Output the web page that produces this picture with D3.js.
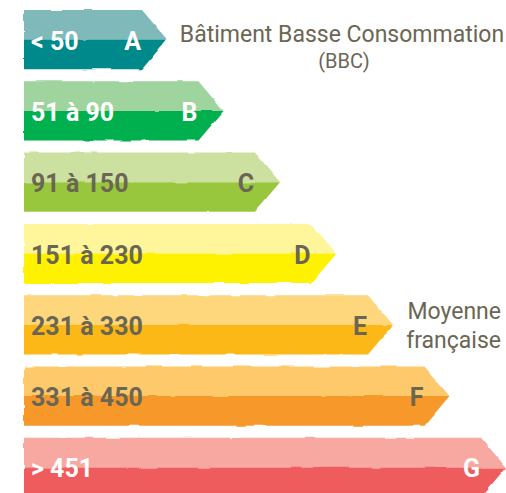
<!DOCTYPE html>
<html>
<head>
<meta charset="utf-8">
<script src="https://cdn.jsdelivr.net/npm/d3@7"></script>
<style>
  html, body { margin: 0; padding: 0; background: #ffffff; }
  svg { display: block; }
</style>
</head>
<body>
<div id="chart"></div>
<script>
// ---- data ----
const classes = ["A", "B", "C", "D", "E", "F", "G"];
const ranges = ["< 50", "51 à 90", "91 à 150", "151 à 230", "231 à 330", "331 à 450", "> 451"];
const ranks = [1, 2, 3, 4, 5, 6, 7];
const lightColors = ["#80b9ba", "#9fd49e", "#cce1a0", "#fff69b", "#fed67c", "#fdc96b", "#f7a9a1"];
const darkColors = ["#00898b", "#00b050", "#98c73d", "#fff200", "#fcb815", "#f7992b", "#ef5b5d"];
const labelColors = ["#ffffff", "#ffffff", "#6b6653", "#6b6653", "#6b6653", "#6b6653", "#ffffff"];
const annotationTop = ["Bâtiment Basse Consommation", "(BBC)"];
const annotationMid = ["Moyenne", "française"];

const W = 506, H = 493;
const svg = d3.select("#chart").append("svg").attr("width", W).attr("height", H);

// hand-drawn look for the bar edges
const defs = svg.append("defs");
const filt = defs.append("filter").attr("id", "rough")
  .attr("x", "-2%").attr("y", "-10%").attr("width", "104%").attr("height", "120%");
filt.append("feTurbulence").attr("type", "fractalNoise")
  .attr("baseFrequency", "0.04 0.08").attr("numOctaves", 2).attr("seed", 3).attr("result", "noise");
filt.append("feDisplacementMap").attr("in", "SourceGraphic").attr("in2", "noise")
  .attr("scale", 3).attr("xChannelSelector", "R").attr("yChannelSelector", "G");

const y = d3.scaleBand().domain(classes).range([10, 497]).paddingInner(0.17).paddingOuter(0);
const xTip = d3.scaleLinear().domain([1, 7]).range([167, 506]);
const x0 = 24;
const tipW = 25;

const rows = classes.map((c, i) => ({ c, i, range: ranges[i], rank: ranks[i] }));

const g = svg.selectAll("g.bar").data(rows).enter().append("g").attr("class", "bar");

function arrowPath(d, part) {
  const top = y(d.c), bh = y.bandwidth(), mid = top + bh / 2, bot = top + bh;
  const tx = xTip(d.rank), bx = tx - tipW;
  if (part === "light") {
    return `M${x0},${top}L${bx},${top}L${tx},${mid}L${x0},${mid}Z`;
  }
  return `M${x0},${mid}L${tx},${mid}L${bx},${bot}L${x0},${bot}Z`;
}

const shapes = g.append("g").attr("filter", "url(#rough)");
shapes.append("path").attr("d", d => arrowPath(d, "light")).attr("fill", d => lightColors[d.i]);
shapes.append("path").attr("d", d => arrowPath(d, "dark")).attr("fill", d => darkColors[d.i]);

const labelFont = "Roboto, 'Liberation Sans', sans-serif";

g.append("text")
  .attr("x", 31)
  .attr("y", d => y(d.c) + y.bandwidth() / 2 + 10)
  .attr("font-family", labelFont)
  .attr("font-weight", "bold")
  .attr("font-size", 25)
  .attr("fill", d => labelColors[d.i])
  .text(d => d.range);

g.append("text")
  .attr("x", d => xTip(d.rank) - 26)
  .attr("y", d => y(d.c) + y.bandwidth() / 2 + 10)
  .attr("text-anchor", "end")
  .attr("font-family", labelFont)
  .attr("font-weight", "bold")
  .attr("font-size", 25)
  .attr("fill", d => labelColors[d.i])
  .text(d => d.c);

const annFont = "Roboto, 'Liberation Sans', sans-serif";
svg.append("text").attr("x", 342).attr("y", 42)
  .attr("text-anchor", "middle").attr("font-family", annFont)
  .attr("font-size", 23).attr("fill", "#6b6653").text(annotationTop[0]);
svg.append("text").attr("x", 344).attr("y", 68)
  .attr("text-anchor", "middle").attr("font-family", annFont)
  .attr("font-size", 20).attr("fill", "#6b6653").text(annotationTop[1]);
svg.append("text").attr("x", 501).attr("y", 319)
  .attr("text-anchor", "end").attr("font-family", annFont)
  .attr("font-size", 23).attr("fill", "#6b6653").text(annotationMid[0]);
svg.append("text").attr("x", 501).attr("y", 348)
  .attr("text-anchor", "end").attr("font-family", annFont)
  .attr("font-size", 23).attr("fill", "#6b6653").text(annotationMid[1]);
</script>
</body>
</html>
